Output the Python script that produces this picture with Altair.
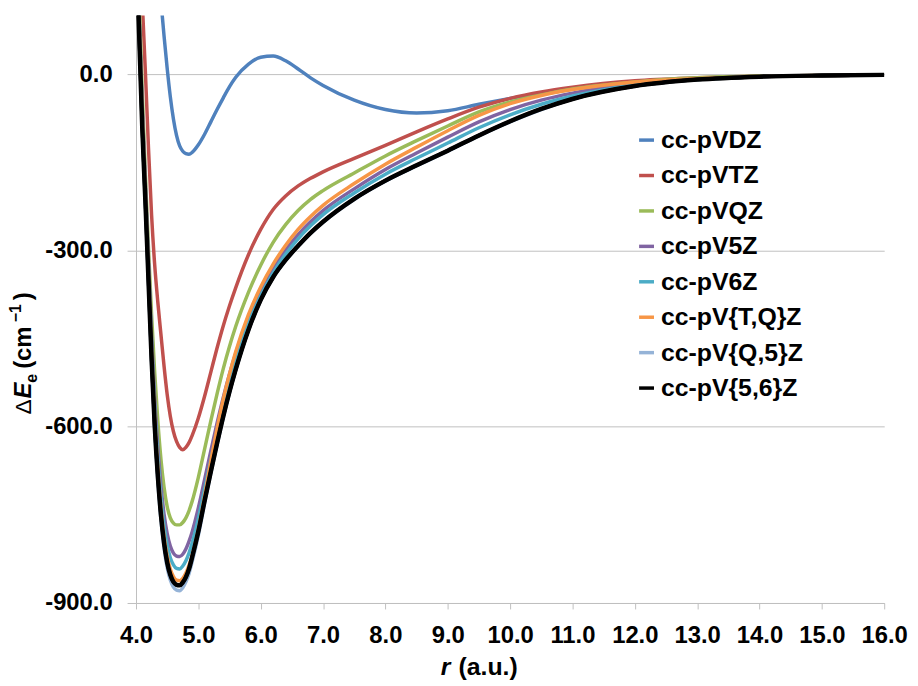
import altair as alt
import pandas as pd

# bond length grid (a.u.)
R = [4.0, 4.05, 4.1, 4.15, 4.2, 4.25, 4.3, 4.35, 4.4, 4.45, 4.5, 4.55, 4.6, 4.65, 4.7,
     4.75, 4.8, 4.85, 4.9, 5.0, 5.1, 5.2, 5.3, 5.4, 5.5, 5.6, 5.8, 6.0, 6.2, 6.4, 6.6,
     6.8, 7.0, 7.5, 8.0, 8.5, 9.0, 9.5, 10.0, 10.5, 11.0, 12.0, 13.0, 14.0, 15.0, 16.0]

VDZ = [700, 600, 500, 420, 350, 300, 245, 185, 125, 65, 10, -38, -76, -104, -122,
       -131, -135, -136, -133, -120, -102, -81, -60, -40, -21, -5, 17, 29, 31, 23, 9,
       -6, -19, -44, -60, -66, -62, -51, -41, -32, -24, -13, -7, -4, -2, -1]
VTZ = [340, 230, 125, 5, -125, -240, -325, -388, -443, -497, -545, -582, -608, -625, -635,
       -639, -635, -627, -615, -585, -548, -507, -466, -428, -394, -363, -308, -264, -230, -207, -190,
       -177, -166, -143, -121, -98, -76, -56, -41, -30, -22, -11, -6, -3, -2, -1]
VQZ = [300, 130, -30, -170, -295, -410, -508, -590, -655, -703, -736, -755, -764, -767, -767,
       -763, -755, -743, -727, -686, -638, -590, -544, -501, -463, -429, -372, -325, -286, -256, -232,
       -213, -198, -168, -139, -113, -88, -64, -47, -35, -25, -13, -6, -3, -2, -1]
V5Z = [265, 105, -55, -185, -315, -445, -552, -634, -700, -749, -782, -803, -815, -820, -821,
       -817, -808, -795, -779, -738, -690, -641, -594, -550, -510, -475, -416, -369, -330, -299, -273,
       -251, -232, -195, -162, -134, -107, -81, -60, -44, -32, -16, -8, -4, -2, -1]
V6Z = [255, 95, -65, -195, -328, -460, -570, -652, -719, -768, -801, -823, -835, -841, -842,
       -837, -828, -815, -798, -756, -706, -656, -608, -563, -522, -486, -425, -377, -338, -306, -280,
       -258, -239, -202, -170, -143, -117, -91, -69, -51, -37, -18, -9, -4, -2, -1]
VTQ = [250, 90, -70, -200, -335, -470, -583, -668, -737, -787, -820, -842, -855, -861, -862,
       -858, -849, -836, -819, -774, -718, -658, -603, -553, -510, -472, -410, -362, -323, -291, -264,
       -242, -223, -186, -153, -124, -96, -70, -50, -36, -26, -13, -7, -4, -2, -1]
VQ5 = [240, 75, -90, -218, -355, -492, -606, -693, -759, -807, -840, -861, -873, -878, -879,
       -874, -864, -850, -830, -785, -731, -680, -631, -585, -542, -504, -437, -385, -346, -317, -293,
       -271, -252, -213, -182, -156, -131, -105, -81, -60, -42, -20, -9, -4, -2, -1]
V56 = [230, 70, -90, -215, -350, -485, -598, -684, -750, -798, -831, -852, -864, -869, -870,
       -865, -856, -842, -822, -778, -726, -676, -628, -582, -540, -502, -436, -384, -345, -316, -292,
       -270, -251, -212, -181, -155, -130, -104, -80, -59, -42, -20, -9, -4, -2, -1]

NAMES = ["cc-pVDZ", "cc-pVTZ", "cc-pVQZ", "cc-pV5Z", "cc-pV6Z",
         "cc-pV{T,Q}Z", "cc-pV{Q,5}Z", "cc-pV{5,6}Z"]
COLORS = ["#4F81BD", "#C0504D", "#9BBB59", "#8064A2", "#4BACC6",
          "#F79646", "#95B3D7", "#000000"]
SERIES = [VDZ, VTZ, VQZ, V5Z, V6Z, VTQ, VQ5, V56]

X_TICKS = [4, 5, 6, 7, 8, 9, 10, 11, 12, 13, 14, 15, 16]
Y_TICKS = [-900, -600, -300, 0]

rows = []
for name, vals in zip(NAMES, SERIES):
    for r, e in zip(R, vals):
        rows.append({"r": r, "E": e, "basis": name})
df = pd.DataFrame(rows)

FONT = "Liberation Sans"
GRID = "#bfbfbf"

xscale = alt.Scale(domain=[4, 16], nice=False, zero=False)
yscale = alt.Scale(domain=[-900, 100], nice=False, zero=False)

xaxis = alt.Axis(values=X_TICKS, format=".1f", title=None, grid=False,
                 domainColor=GRID, domainWidth=1, tickColor=GRID, tickSize=6,
                 labelFont=FONT, labelFontSize=24, labelFontWeight="bold",
                 labelColor="#000000", labelPadding=15, labelFlush=False)
yaxis = alt.Axis(values=Y_TICKS, title=None, grid=True, gridColor=GRID, gridWidth=1,
                 domainColor=GRID, domainWidth=1, tickColor=GRID, tickSize=9,
                 labelExpr="datum.value < 0 ? '-' + format(-datum.value, '.1f') : format(datum.value, '.1f')",
                 labelFont=FONT, labelFontSize=24, labelFontWeight="bold",
                 labelColor="#000000", labelPadding=15)

lines = alt.Chart(df).mark_line(clip=True, interpolate="monotone", strokeWidth=3.5).encode(
    x=alt.X("r:Q", scale=xscale, axis=xaxis),
    y=alt.Y("E:Q", scale=yscale, axis=yaxis),
    color=alt.Color("basis:N", scale=alt.Scale(domain=NAMES, range=COLORS),
                    sort=NAMES,
                    legend=alt.Legend(orient="none", legendX=502, legendY=113, title=None,
                                      labelFont=FONT, labelFontSize=25, labelFontWeight="bold",
                                      labelColor="#000000", symbolType="stroke",
                                      symbolStrokeWidth=3.5, symbolSize=225, rowPadding=9.7,
                                      labelOffset=2, padding=0)),
    detail="basis:N",
)

top_black = alt.Chart(df).transform_filter(alt.datum.basis == NAMES[-1]).mark_line(
    clip=True, interpolate="monotone", strokeWidth=4.5, color="#000000").encode(
    x=alt.X("r:Q", scale=xscale, axis=xaxis),
    y=alt.Y("E:Q", scale=yscale, axis=yaxis),
)

def label(txt, x, y, size, weight="bold", style="normal", angle=0, align="left"):
    return alt.Chart(pd.DataFrame({"t": [txt]})).mark_text(
        font=FONT, fontSize=size, fontWeight=weight, fontStyle=style, angle=angle,
        align=align, baseline="alphabetic", color="#000000").encode(
        text="t:N", x=alt.value(x), y=alt.value(y))

xtitle = [label("r", 307, 665, 25, style="italic"),
          label("(a.u.)", 325, 665, 25)]
ytitle = [label("\u0394", -106, 402, 23, weight="normal", angle=270),
          label("E", -106, 386, 24, style="italic", angle=270),
          label("e", -100, 370, 16, angle=270),
          label("(cm", -106, 356, 24, angle=270),
          label("\u22121", -116, 309, 16, angle=270),
          label(")", -106, 287, 24, angle=270)]

chart = alt.layer(lines, top_black, *xtitle, *ytitle).properties(
    width=754, height=592,
    autosize=alt.AutoSizeParams(type="none"),
    padding={"left": 129, "top": 5, "right": 26, "bottom": 78},
).configure_view(stroke=None)

chart.save("out.html", embed_options={"renderer": "svg", "actions": False})
